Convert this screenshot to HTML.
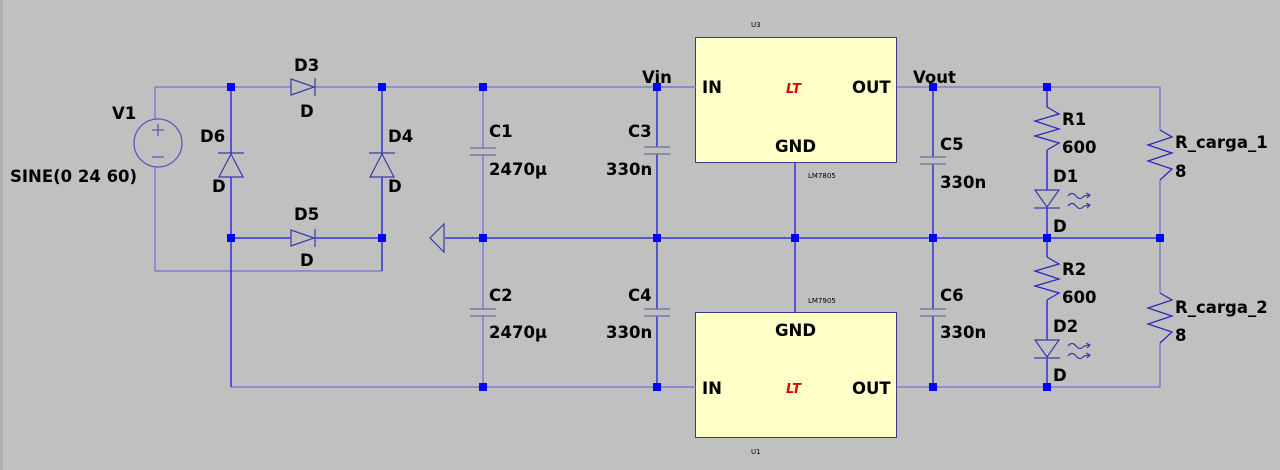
<!DOCTYPE html>
<html><head><meta charset="utf-8"><style>
html,body{margin:0;padding:0;background:#c0c0c0;}
svg{display:block}
text{font-family:"DejaVu Sans","Liberation Sans",sans-serif;font-weight:bold;font-size:16.5px;fill:#000}
.s{font-size:7px;font-weight:normal}
</style></head><body>
<svg width="1280" height="470" viewBox="0 0 1280 470" xmlns="http://www.w3.org/2000/svg">
<rect x="0" y="0" width="1280" height="470" fill="#c0c0c0"/>
<line x1="1.5" y1="0" x2="1.5" y2="470" stroke="#a8a8a8" stroke-width="2"/>
<g fill="none" stroke="#7474d0" stroke-width="1.3">
<path d="M155 87 H291 M315 87 H697 M155 87 V119 M155 167 V271 H382"/>
<path d="M897 87 H1160 V130 M1160 180 V293 M1160 343 V387 H897"/>
<path d="M231 387 H697"/>
<path d="M483 87 V148 M483 155 V309 M483 316 V387"/>
<circle cx="158" cy="143" r="24" stroke="#5a5ab8"/>
<path d="M152 130 H164 M158 124 V136 M152 157 H164" stroke="#5a5ab8"/>
</g>
<g fill="none" stroke="#1a1ae0" stroke-width="1.3">
<path d="M231 87 V153 M231 177 V387"/>
<path d="M382 87 V153 M382 177 V271"/>
<path d="M231 238 H291 M315 238 H382"/>
<path d="M445 238 H1160"/>
<path d="M657 87 V147 M657 154 V309 M657 316 V387"/>
<path d="M795 162 V312"/>
<path d="M933 87 V157 M933 164 V309 M933 316 V387"/>
<path d="M1047 87 V107 M1047 150 V190 M1047 208 V257 M1047 300 V340 M1047 358 V387"/>
</g>
<g fill="none" stroke="#3a3aa8" stroke-width="1.2">
<path d="M291 79 L314 87 L291 95 Z M315 78 V96"/>
<path d="M291 230 L314 238 L291 246 Z M315 229 V247"/>
<path d="M219 177 L231 154 L243 177 Z M218 153 H244"/>
<path d="M370 177 L382 154 L394 177 Z M369 153 H395"/>
<path d="M1035 190 L1047 207 L1059 190 Z M1034 208 H1060"/>
<path d="M1035 340 L1047 357 L1059 340 Z M1034 358 H1060"/>
<path d="M1068 196 q4 -5 8 0 t8 0 l6 -1 M1086 193 l4 2 l-3 3 M1068 206 q4 -5 8 0 t8 0 l6 -1 M1086 203 l4 2 l-3 3"/>
<path d="M1068 346 q4 -5 8 0 t8 0 l6 -1 M1086 343 l4 2 l-3 3 M1068 356 q4 -5 8 0 t8 0 l6 -1 M1086 353 l4 2 l-3 3"/>
<path d="M444 224 L430 238 L444 252 Z"/>
</g>
<g stroke="#6a6aa8" stroke-width="1.3">
<path d="M470 148 H496 M470 155 H496 M470 309 H496 M470 316 H496"/>
<path d="M644 147 H670 M644 154 H670 M644 309 H670 M644 316 H670"/>
<path d="M920 157 H946 M920 164 H946 M920 309 H946 M920 316 H946"/>
</g>
<g fill="none" stroke="#2a2ac0" stroke-width="1.3">
<path d="M1047 107 L1059 114 L1035 121 L1059 129 L1035 136 L1059 143 L1047 150"/>
<path d="M1047 257 L1059 264 L1035 271 L1059 279 L1035 286 L1059 293 L1047 300"/>
<path d="M1160 130 L1172 137 L1148 145 L1172 153 L1148 161 L1172 169 L1160 180"/>
<path d="M1160 293 L1172 300 L1148 308 L1172 316 L1148 324 L1172 332 L1160 343"/>
</g>
<rect x="695.5" y="37.5" width="201" height="125" fill="#ffffc8" stroke="#3a3a8a"/>
<rect x="695.5" y="312.5" width="201" height="125" fill="#ffffc8" stroke="#3a3a8a"/>
<g stroke="#7474d0" stroke-width="1.3"><path d="M657 87 H696 M657 387 H696"/></g>
<g fill="#0000ff">
<rect x="227" y="83" width="8" height="8"/><rect x="378" y="83" width="8" height="8"/>
<rect x="479" y="83" width="8" height="8"/><rect x="653" y="83" width="8" height="8"/>
<rect x="929" y="83" width="8" height="8"/><rect x="1043" y="83" width="8" height="8"/>
<rect x="227" y="234" width="8" height="8"/><rect x="378" y="234" width="8" height="8"/>
<rect x="479" y="234" width="8" height="8"/><rect x="653" y="234" width="8" height="8"/>
<rect x="791" y="234" width="8" height="8"/><rect x="929" y="234" width="8" height="8"/>
<rect x="1043" y="234" width="8" height="8"/><rect x="1156" y="234" width="8" height="8"/>
<rect x="479" y="383" width="8" height="8"/><rect x="653" y="383" width="8" height="8"/>
<rect x="929" y="383" width="8" height="8"/><rect x="1043" y="383" width="8" height="8"/>
</g>
<text x="112" y="119">V1</text>
<text x="10" y="182">SINE(0 24 60)</text>
<text x="294" y="71">D3</text><text x="300" y="117">D</text>
<text x="200" y="142">D6</text><text x="212" y="192">D</text>
<text x="388" y="142">D4</text><text x="388" y="192">D</text>
<text x="294" y="220">D5</text><text x="300" y="266">D</text>
<text x="489" y="137">C1</text><text x="489" y="175">2470µ</text>
<text x="489" y="301">C2</text><text x="489" y="338">2470µ</text>
<text x="628" y="137">C3</text><text x="606" y="175">330n</text>
<text x="628" y="301">C4</text><text x="606" y="338">330n</text>
<text x="642" y="83">Vin</text>
<text x="913" y="83">Vout</text>
<text x="940" y="150">C5</text><text x="940" y="188">330n</text>
<text x="940" y="301">C6</text><text x="940" y="338">330n</text>
<text x="1062" y="125">R1</text><text x="1062" y="153">600</text>
<text x="1053" y="182">D1</text><text x="1053" y="232">D</text>
<text x="1062" y="275">R2</text><text x="1062" y="303">600</text>
<text x="1053" y="332">D2</text><text x="1053" y="381">D</text>
<text x="1175" y="148">R_carga_1</text><text x="1175" y="177">8</text>
<text x="1175" y="313">R_carga_2</text><text x="1175" y="341">8</text>
<text x="702" y="93">IN</text><text x="852" y="93">OUT</text><text x="775" y="152">GND</text>
<text x="702" y="394">IN</text><text x="852" y="394">OUT</text><text x="775" y="336">GND</text>
<text x="786" y="93" style="fill:#e00000;font-style:italic;font-size:13px">LT</text>
<text x="786" y="393" style="fill:#e00000;font-style:italic;font-size:13px">LT</text>
<text class="s" x="751" y="27">U3</text>
<text class="s" x="808" y="178">LM7805</text>
<text class="s" x="808" y="303">LM7905</text>
<text class="s" x="751" y="454">U1</text>
</svg>
</body></html>
